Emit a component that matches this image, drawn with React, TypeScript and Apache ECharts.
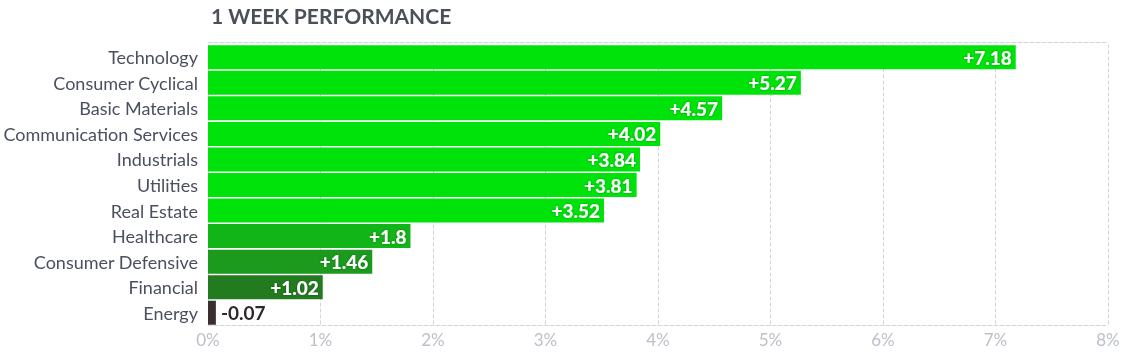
import React, { useEffect, useRef } from "react";
import * as echarts from "echarts";

const categories = [
  "Technology",
  "Consumer Cyclical",
  "Basic Materials",
  "Communication Services",
  "Industrials",
  "Utilities",
  "Real Estate",
  "Healthcare",
  "Consumer Defensive",
  "Financial",
  "Energy",
];
const values = [7.18, 5.27, 4.57, 4.02, 3.84, 3.81, 3.52, 1.8, 1.46, 1.02, -0.07];
const barColors = [
  "#00e30a", "#00e30a", "#00e30a", "#00e30a", "#00e30a", "#00e30a", "#00e30a",
  "#12b517", "#1b9a1e", "#237b20", "#3a2f2f",
];
const tickValues = [0, 1, 2, 3, 4, 5, 6, 7, 8];

export default function App() {
  const ref = useRef<HTMLDivElement>(null);
  useEffect(() => {
    if (!ref.current) return;
    const chart = echarts.init(ref.current, null, { renderer: "svg" });
    const font = "Lato, 'Noto Sans', sans-serif";
    chart.setOption({
      animation: false,
      title: {
        text: "1 WEEK PERFORMANCE",
        left: 206,
        top: 0,
        textStyle: { fontFamily: font, fontSize: 21, fontWeight: "bold", color: "#4a4f5a" },
      },
      grid: { left: 208, right: 22, top: 44.5, bottom: 28.5 },
      xAxis: [
        {
          type: "value",
          min: tickValues[0],
          max: tickValues[tickValues.length - 1],
          interval: 1,
          axisLine: { show: true, lineStyle: { color: "#d3d3da", type: "dashed" } },
          axisTick: { show: false },
          splitLine: { show: true, lineStyle: { color: "#d3d3da", type: "dashed" } },
          axisLabel: {
            formatter: (v: number) => `${v}%`,
            color: "#bcc0c8",
            fontFamily: font,
            fontSize: 17,
            margin: 5,
          },
        },
        {
          type: "value",
          position: "top",
          offset: 2.5,
          min: tickValues[0],
          max: tickValues[tickValues.length - 1],
          interval: 1,
          axisLine: { show: true, lineStyle: { color: "#d3d3da", type: "dashed" } },
          axisTick: { show: false },
          splitLine: { show: false },
          axisLabel: { show: false },
        },
      ],
      yAxis: {
        type: "category",
        inverse: true,
        data: categories,
        axisLine: { show: false },
        axisTick: { show: false },
        axisLabel: {
          color: "#4b5060",
          fontFamily: font,
          fontSize: 18,
          margin: 10,
        },
      },
      series: [
        {
          type: "bar",
          barCategoryGap: "6%",
          data: values.map((v, i) => {
            const neg = v < 0;
            return {
              value: Math.abs(v),
              itemStyle: { color: barColors[i] },
              label: neg
                ? {
                    show: true,
                    position: "right",
                    distance: 5,
                    color: "#2f2a2a",
                    fontWeight: "bold",
                    fontSize: 19,
                    textShadowBlur: 0,
                  }
                : undefined,
            };
          }),
          label: {
            show: true,
            position: "insideRight",
            distance: 4,
            color: "#ffffff",
            fontFamily: font,
            fontWeight: 900,
            fontSize: 19,
            textShadowColor: "rgba(0,0,0,0.35)",
            textShadowBlur: 2,
            formatter: (p: any) => {
              const v = values[p.dataIndex];
              return v < 0 ? `${v}` : `+${v}`;
            },
          },
        },
      ],
    });
    return () => chart.dispose();
  }, []);
  return (
    <div
      ref={ref}
      style={{ position: "fixed", left: 0, top: 0, width: 1130, height: 354 }}
    />
  );
}
